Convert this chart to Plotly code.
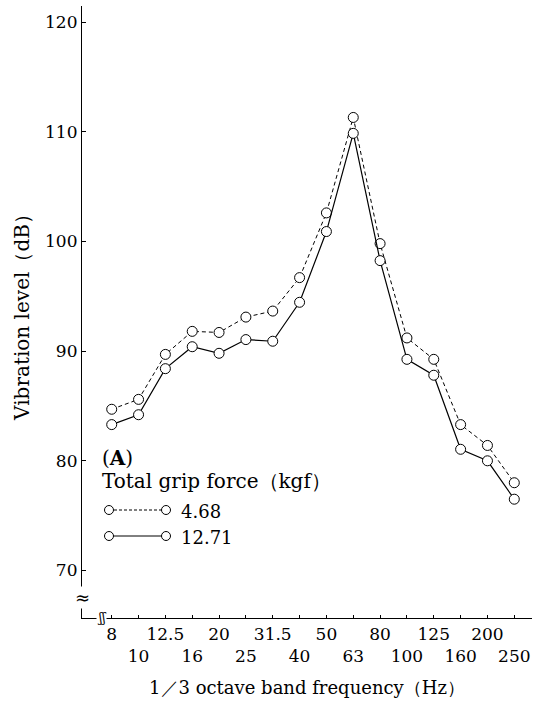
import plotly.graph_objects as go

freqs = ["8", "10", "12.5", "16", "20", "25", "31.5", "40", "50", "63",
         "80", "100", "125", "160", "200", "250"]
level_468 = [84.7, 85.6, 89.7, 91.8, 91.7, 93.1, 93.65, 96.7, 102.6, 111.3,
             99.8, 91.2, 89.25, 83.3, 81.4, 78.0]
level_1271 = [83.3, 84.2, 88.4, 90.4, 89.8, 91.05, 90.9, 94.45, 100.9, 109.85,
              98.25, 89.25, 87.8, 81.05, 80.0, 76.5]
y_ticks = [70, 80, 90, 100, 110, 120]

W, H = 538, 708
ML, MR, MT, MB = 82, 6, 6, 90
PW, PH = W - ML - MR, H - MT - MB
FONT = "DejaVu Serif"


def px(x):
    return (x - ML) / PW


def py(y):
    return (H - MB - y) / PH


idx = list(range(len(freqs)))
ticktext = [f if i % 2 == 0 else "<br>" + f for i, f in enumerate(freqs)]

marker = dict(symbol="circle", size=10, color="white",
              line=dict(color="black", width=1))

fig = go.Figure()
fig.add_trace(go.Scatter(x=idx, y=level_468, mode="lines+markers",
                         line=dict(color="black", width=1, dash="4px,3px"),
                         marker=marker, name="4.68", showlegend=False))
fig.add_trace(go.Scatter(x=idx, y=level_1271, mode="lines+markers",
                         line=dict(color="black", width=1.2),
                         marker=marker, name="12.71", showlegend=False))

shapes = []
annotations = []
# legend samples
for yy, dash, lab in [(510, "3px,2px", "4.68"), (536, "solid", "12.71")]:
    shapes.append(dict(type="line", xref="paper", yref="paper",
                       x0=px(109), x1=px(166), y0=py(yy), y1=py(yy),
                       line=dict(color="black", width=1, dash=dash)))
    for cx in (109, 166):
        shapes.append(dict(type="circle", xref="paper", yref="paper",
                           x0=px(cx - 4.5), x1=px(cx + 4.5), y0=py(yy - 4.5), y1=py(yy + 4.5),
                           fillcolor="white", line=dict(color="black", width=1)))
    annotations.append(dict(text=lab, xref="paper", yref="paper", x=px(179), y=py(yy + 1),
                            xanchor="left", yanchor="middle", showarrow=False,
                            font=dict(family=FONT, size=18, color="black")))
annotations.append(dict(text="(<b>A</b>)", xref="paper", yref="paper", x=px(100), y=py(458),
                        xanchor="left", yanchor="middle", showarrow=False,
                        font=dict(family=FONT, size=20, color="black")))
annotations.append(dict(text="Total grip force（kgf）", xref="paper", yref="paper",
                        x=px(100), y=py(481), xanchor="left", yanchor="middle",
                        showarrow=False,
                        font=dict(family=FONT, size=20, color="black")))
# axis break marks
annotations.append(dict(text="≈", xref="paper", yref="paper", x=px(82.5), y=py(597),
                        xanchor="center", yanchor="middle", showarrow=False,
                        bgcolor="white", borderpad=0,
                        font=dict(family=FONT, size=18, color="black")))
annotations.append(dict(text="ʃʃ", xref="paper", yref="paper", x=px(101), y=py(618),
                        xanchor="center", yanchor="middle", showarrow=False,
                        bgcolor="white", borderpad=0,
                        font=dict(family=FONT, size=12, color="black")))

fig.update_layout(
    width=W, height=H,
    margin=dict(l=ML, r=MR, t=MT, b=MB),
    paper_bgcolor="white", plot_bgcolor="white",
    font=dict(family=FONT, size=17, color="black"),
    shapes=shapes, annotations=annotations,
    xaxis=dict(range=[-1.107, 15.66], tickvals=idx, ticktext=ticktext,
               tickangle=0,
               showline=True, linecolor="black", linewidth=1.2,
               ticks="inside", ticklen=3, tickcolor="black",
               showgrid=False, zeroline=False,
               tickfont=dict(family=FONT, size=17),
               title=dict(text="1／3 octave band frequency（Hz）",
                          font=dict(family=FONT, size=18), standoff=16)),
    yaxis=dict(range=[65.67, 121.46], tickvals=y_ticks,
               showline=True, linecolor="black", linewidth=1.2,
               ticks="inside", ticklen=4, tickcolor="black",
               showgrid=False, zeroline=False,
               tickfont=dict(family=FONT, size=17),
               title=dict(text="Vibration level（dB）",
                          font=dict(family=FONT, size=20), standoff=10)),
)

fig.write_html("out.html")
